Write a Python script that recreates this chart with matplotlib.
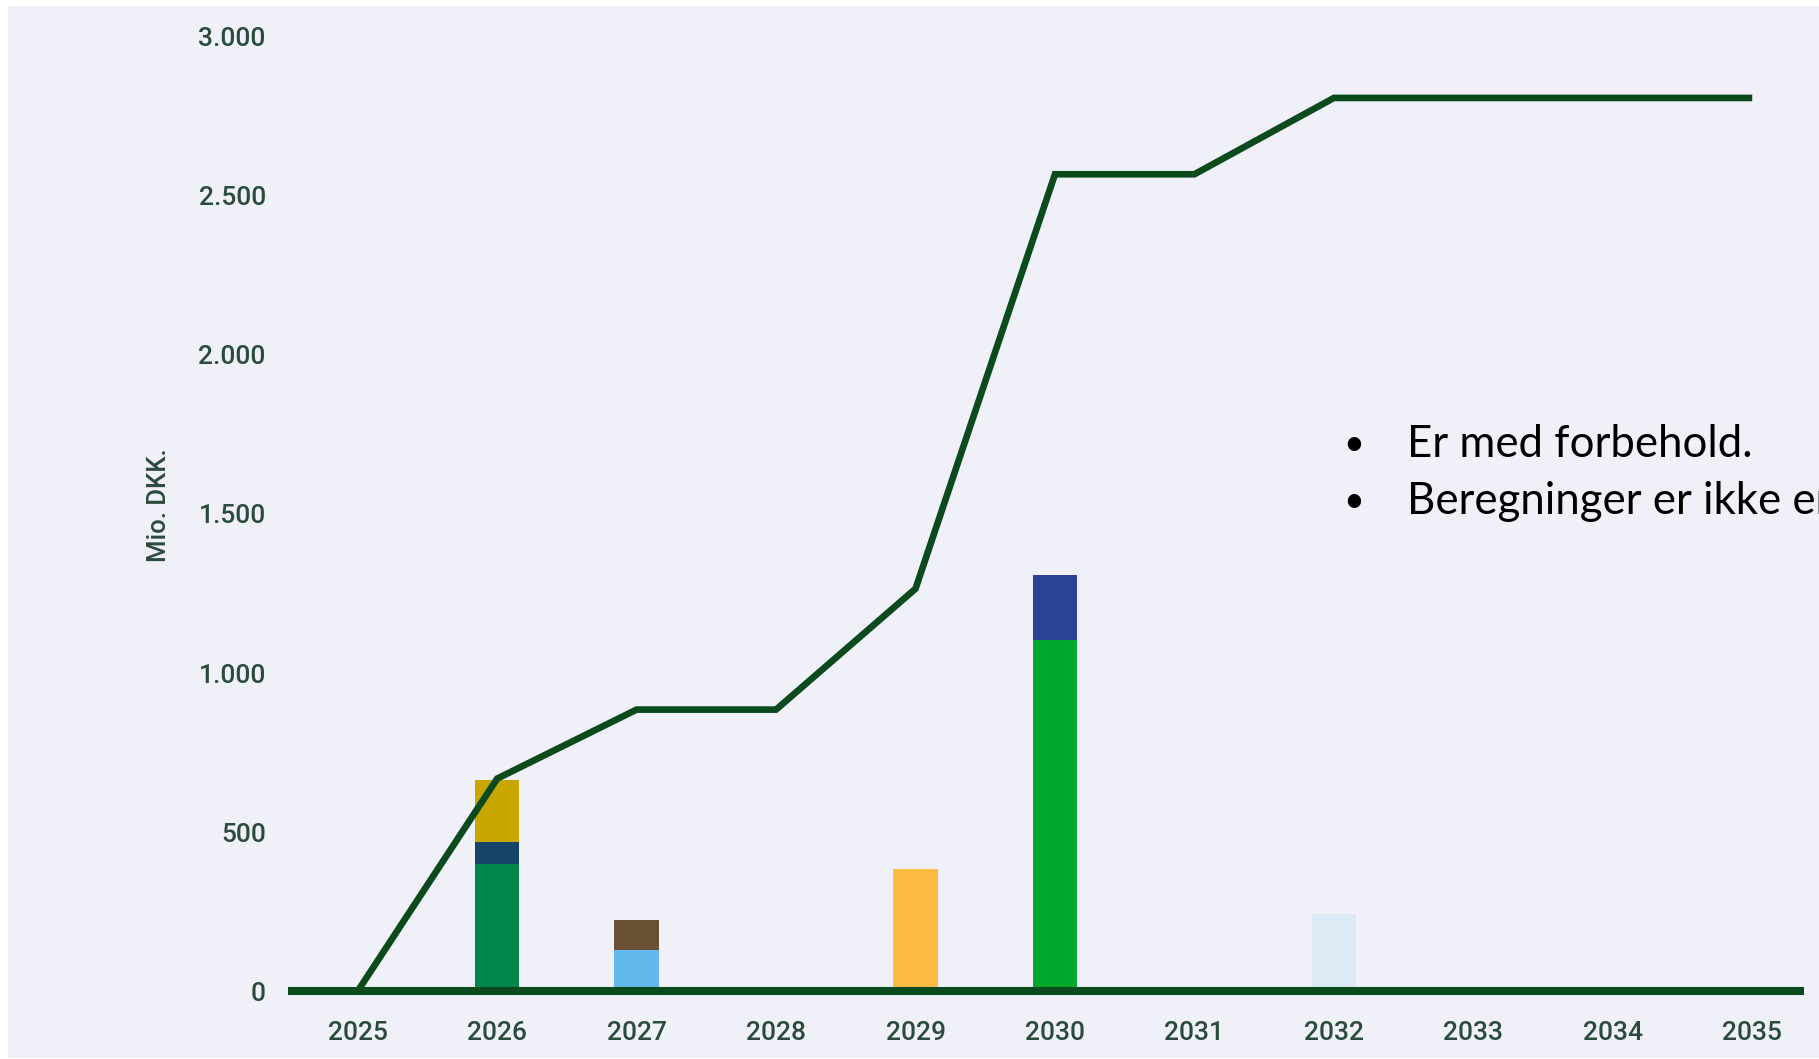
import matplotlib
matplotlib.use("Agg")
import matplotlib.pyplot as plt
import numpy as np

years = [2025, 2026, 2027, 2028, 2029, 2030, 2031, 2032, 2033, 2034, 2035]
cumulative = [0, 668, 885, 885, 1265, 2568, 2568, 2808, 2808, 2808, 2808]

layer1_vals = [0, 400, 130, 0, 383, 1103, 0, 242, 0, 0, 0]
layer1_cols = ["none", "#00854A", "#63B9EE", "none", "#FDBC42", "#00A82B", "none", "#DCEAF6", "none", "none", "none"]
layer2_vals = [0, 70, 95, 0, 0, 205, 0, 0, 0, 0, 0]
layer2_cols = ["none", "#17456A", "#6A5034", "none", "none", "#2B4396", "none", "none", "none", "none", "none"]
layer3_vals = [0, 195, 0, 0, 0, 0, 0, 0, 0, 0, 0]
layer3_cols = ["none", "#C8A800", "none", "none", "none", "none", "none", "none", "none", "none", "none"]

yticks = [0, 500, 1000, 1500, 2000, 2500, 3000]
ytick_labels = ["0", "500", "1.000", "1.500", "2.000", "2.500", "3.000"]
notes = ["Er med forbehold.", "Beregninger er ikke endelige."]

BG = "#EFF0F8"
LINE = "#0A4A1D"
TXT = "#2B4B3D"

W, H = 1819, 1059
fig = plt.figure(figsize=(W / 100, H / 100), dpi=100, facecolor="white")
fig.patches.append(plt.Rectangle((8 / W, 1 / H), 1 - 8 / W, 1 - 7 / H,
                                 transform=fig.transFigure, facecolor=BG,
                                 edgecolor="none", zorder=-10))

ax_left, ax_right = 288 / W, 1808 / W
ax_bottom, ax_top = 1 - 1000 / H, 1 - 20 / H
ax = fig.add_axes([ax_left, ax_bottom, ax_right - ax_left, ax_top - ax_bottom])
ax.set_facecolor("none")
ax.set_xlim(2024.5, 2035.4)
ax.set_ylim(-28, 3053)

x = np.array(years, dtype=float)
bw = 0.32
b = np.zeros(len(years))
for vals, cols in [(layer1_vals, layer1_cols), (layer2_vals, layer2_cols), (layer3_vals, layer3_cols)]:
    v = np.array(vals, dtype=float)
    ax.bar(x, v, width=bw, bottom=b, color=cols, edgecolor="none", zorder=2)
    b += v

ax.axhline(0, xmin=0, xmax=(2035.37 - 2024.5) / 10.9, color=LINE, lw=5.8,
           solid_capstyle="butt", zorder=3)
ax.plot(x, cumulative, color=LINE, lw=4.8, solid_joinstyle="miter",
        solid_capstyle="butt", zorder=4)

for s in ax.spines.values():
    s.set_visible(False)
ax.set_yticks(yticks)
ax.set_yticklabels(ytick_labels)
ax.set_xticks(years)
ax.set_xticklabels([str(y) for y in years])
ax.tick_params(axis="y", length=0, pad=16, labelsize=19, labelcolor=TXT)
ax.tick_params(axis="x", length=0, pad=15, labelsize=19, labelcolor=TXT)
for lab in ax.get_xticklabels() + ax.get_yticklabels():
    lab.set_family("Roboto")
    lab.set_fontweight("medium")

fig.text(159 / W, 1 - 505 / H, "Mio. DKK.", rotation=90, ha="center", va="center",
         fontsize=18.5, color=TXT, family="Roboto", fontweight="medium")

for i, t in enumerate(notes):
    yy = 1 - (444 + 57 * i) / H
    fig.text(1354 / W, yy, "•", ha="center", va="center", fontsize=26,
             family="Lato", color="black")
    fig.text(1407 / W, yy, t, ha="left", va="center", fontsize=31.5,
             family="Lato", color="black")

fig.savefig("out.png", dpi=100, facecolor="white")
